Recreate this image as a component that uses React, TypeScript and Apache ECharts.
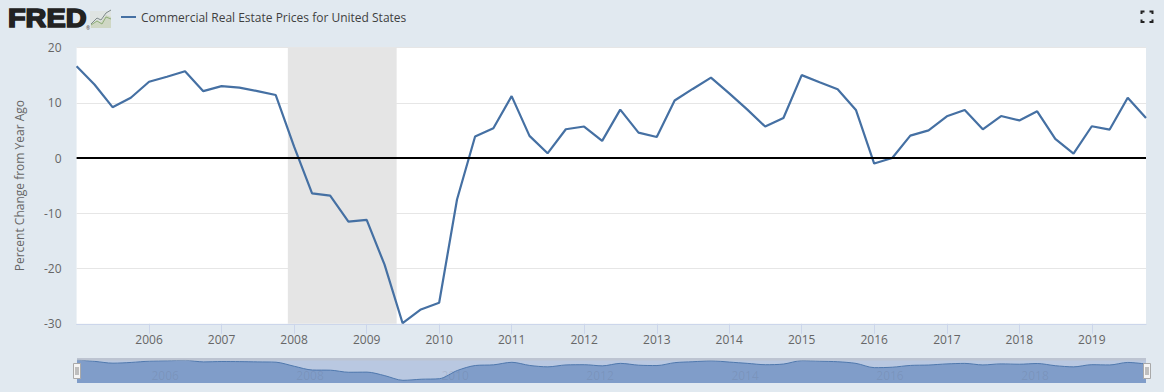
import React, { useEffect, useRef } from "react";
import * as echarts from "echarts";

const seriesName = "Commercial Real Estate Prices for United States";
const yAxisName = "Percent Change from Year Ago";
const startYear = 2005;
const pctChange = [
  16.6, 13.3, 9.2, 10.9,
  13.8, 14.7, 15.7, 12.1,
  13.0, 12.75, 12.1, 11.4,
  2.1, -6.4, -6.8, -11.5,
  -11.2, -19.3, -29.9, -27.4,
  -26.2, -7.5, 3.9, 5.4,
  11.2, 4.0, 0.85, 5.2,
  5.7, 3.1, 8.75, 4.6,
  3.8, 10.4, 12.5, 14.55,
  11.7, 8.8, 5.7, 7.25,
  15.0, 13.7, 12.45, 8.7,
  -1.0, 0.0, 4.05, 5.0,
  7.55, 8.7, 5.2, 7.6,
  6.8, 8.45, 3.45, 0.8,
  5.75, 5.15, 10.9, 7.25,
];
const tickYears = [2006, 2007, 2008, 2009, 2010, 2011, 2012, 2013, 2014, 2015, 2016, 2017, 2018, 2019];
const navigatorYears = [2006, 2008, 2010, 2012, 2014, 2016, 2018];
const recessionStart = Date.UTC(2007, 11, 1);
const recessionEnd = Date.UTC(2009, 5, 1);
const xMin = Date.UTC(2005, 0, 1);
const xMax = Date.UTC(2019, 9, 1);

const points = pctChange.map((v, i) => [Date.UTC(startYear, i * 3, 1), v]);
const yearMs = (y: number) => Date.UTC(y, 0, 1);
const yearLabel = (v: number) => String(new Date(v).getUTCFullYear());

const PAGE = "#e1e9f0";
const LINE = "#4570a3";
const FONT = "'Open Sans', sans-serif";

const corner = (pts: number[][]) => ({
  type: "polyline",
  shape: { points: pts },
  style: { fill: "none", stroke: "#222", lineWidth: 2 },
  silent: true,
});

const handle = (x: number) => ({
  type: "group",
  z: 50,
  children: [
    { type: "rect", z: 50, shape: { x: x + 0.5, y: 363.5, width: 7, height: 15 }, style: { fill: "#f4f4f4", stroke: "#a9a9a9", lineWidth: 1 } },
    { type: "line", z: 51, shape: { x1: x + 3, y1: 367, x2: x + 3, y2: 375 }, style: { stroke: "#888", lineWidth: 1 } },
    { type: "line", z: 51, shape: { x1: x + 5, y1: 367, x2: x + 5, y2: 375 }, style: { stroke: "#888", lineWidth: 1 } },
  ],
});

export default function App() {
  const ref = useRef<HTMLDivElement>(null);
  useEffect(() => {
    const chart = echarts.init(ref.current!, null, { renderer: "svg" });
    chart.setOption({
      animation: false,
      backgroundColor: PAGE,
      textStyle: { fontFamily: FONT },
      legend: {
        data: [seriesName],
        left: 121,
        top: 11,
        itemWidth: 15,
        itemHeight: 2,
        icon: "rect",
        padding: 0,
        textStyle: { fontFamily: FONT, fontSize: 12, color: "#3f3f3f" },
      },
      grid: [
        { left: 76.6, top: 47.5, width: 1069.4, height: 276.3, show: true, backgroundColor: "#fff", borderWidth: 0 },
        { left: 77, top: 358, width: 1069, height: 25, show: true, backgroundColor: "#b9c8e1", borderWidth: 0 },
      ],
      xAxis: [
        {
          type: "value",
          gridIndex: 0,
          min: xMin,
          max: xMax,
          splitLine: { show: false },
          axisLine: { show: true, onZero: false, lineStyle: { color: "#ccd6eb", width: 1 } },
          axisTick: { show: true, length: 10, lineStyle: { color: "#ccd6eb" }, customValues: tickYears.map(yearMs) },
          minorTick: { show: false },
          axisLabel: {
            color: "#666",
            fontFamily: FONT,
            fontSize: 12,
            margin: 10,
            customValues: tickYears.map(yearMs),
            formatter: yearLabel,
          },
        },
        {
          type: "value",
          gridIndex: 1,
          min: xMin,
          max: xMax,
          splitLine: { show: false },
          axisLine: { show: false },
          axisTick: { show: false },
          axisLabel: {
            inside: true,
            margin: 2,
            align: "left",
            color: "rgba(90,100,120,0.16)",
            fontFamily: FONT,
            fontSize: 12,
            padding: [0, 0, 0, 2],
            customValues: navigatorYears.map(yearMs),
            formatter: yearLabel,
          },
          z: 10,
        },
      ],
      yAxis: [
        {
          type: "value",
          gridIndex: 0,
          min: -30,
          max: 20,
          interval: 10,
          name: yAxisName,
          nameLocation: "middle",
          nameGap: 51,
          nameTextStyle: { color: "#666", fontFamily: FONT, fontSize: 12 },
          axisLine: { show: false },
          axisTick: { show: false },
          axisLabel: { color: "#666", fontFamily: FONT, fontSize: 12, margin: 15 },
          splitLine: { show: true, lineStyle: { color: "#e6e6e6", width: 1 } },
        },
        {
          type: "value",
          gridIndex: 1,
          min: -36,
          max: 21,
          show: false,
          splitLine: { show: false },
        },
      ],
      series: [
        {
          name: seriesName,
          type: "line",
          xAxisIndex: 0,
          yAxisIndex: 0,
          data: points,
          showSymbol: false,
          symbol: "none",
          lineStyle: { color: LINE, width: 2.2 },
          itemStyle: { color: LINE },
          markArea: {
            silent: true,
            itemStyle: { color: "#e5e5e5" },
            data: [[{ xAxis: recessionStart }, { xAxis: recessionEnd }]],
          },
          markLine: {
            silent: true,
            symbol: "none",
            animation: false,
            label: { show: false },
            lineStyle: { color: "#000", width: 2, type: "solid" },
            data: [{ yAxis: 0 }],
          },
        },
        {
          name: "navigator",
          type: "line",
          xAxisIndex: 1,
          yAxisIndex: 1,
          data: points,
          showSymbol: false,
          symbol: "none",
          smooth: 0.3,
          lineStyle: { color: "#4f78ad", width: 1 },
          areaStyle: { color: "#809dc9", opacity: 1, origin: "start" },
        },
      ],
      graphic: [
        { type: "rect", z: 40, shape: { x: 77, y: 358, width: 1069, height: 2.5 }, style: { fill: "rgba(190,195,205,0.8)" }, silent: true },
        handle(73),
        handle(1143),
        {
          type: "text",
          z: 60,
          x: 8,
          y: 5,
          scaleX: 1.11,
          style: {
            text: "FRED",
            fontFamily: "'Liberation Sans', sans-serif",
            fontWeight: 900,
            fontSize: 26,
            fill: "#222",
            stroke: "#222",
            lineWidth: 1.6,
          },
          silent: true,
        },
        { type: "text", z: 60, x: 86, y: 25, style: { text: "®", fontFamily: FONT, fontSize: 5, fill: "#444" }, silent: true },
        { type: "rect", z: 60, shape: { x: 90, y: 11, width: 21, height: 17 }, style: { fill: "#dfe4e2" }, silent: true },
        { type: "polygon", z: 60, shape: { points: [[91, 28], [91, 25], [97, 20], [101, 22], [106, 15], [111, 17], [111, 28]] }, style: { fill: "#cfd7c4" }, silent: true },
        { type: "polyline", z: 61, shape: { points: [[91, 25], [97, 21], [102, 24], [106, 17], [111, 19]] }, style: { fill: "none", stroke: "#8fae78", lineWidth: 1 }, silent: true },
        { type: "polyline", z: 61, shape: { points: [[91, 24], [97, 18], [101, 20], [106, 13], [111, 10]] }, style: { fill: "none", stroke: "#7f8a8a", lineWidth: 1 }, silent: true },
        corner([[1141.5, 14], [1141.5, 11.5], [1144.5, 11.5]]),
        corner([[1149.5, 11.5], [1152.5, 11.5], [1152.5, 14]]),
        corner([[1141.5, 19.5], [1141.5, 22], [1144.5, 22]]),
        corner([[1149.5, 22], [1152.5, 22], [1152.5, 19.5]]),
      ],
    });
    return () => chart.dispose();
  }, []);
  return <div ref={ref} style={{ position: "fixed", left: 0, top: 0, width: 1164, height: 392 }} />;
}
